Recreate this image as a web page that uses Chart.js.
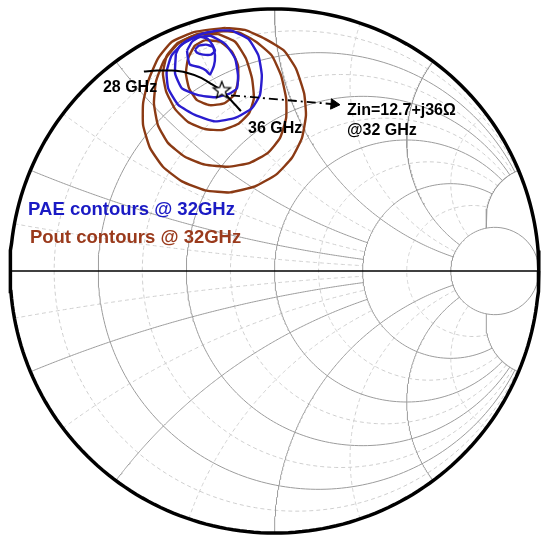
<!DOCTYPE html>
<html>
<head>
<meta charset="utf-8">
<script src="https://cdn.jsdelivr.net/npm/chart.js@4.4.1/dist/chart.umd.min.js"></script>
<style>
  html, body { margin: 0; padding: 0; background: #fff; }
  #wrap { position: relative; width: 550px; height: 542px; }
</style>
</head>
<body>
<div id="wrap"><canvas id="smith_chart"></canvas></div>
<script>
// Smith chart grid (normalized r and x)
const rMajor = [0.2, 0.5, 1, 2, 5];
const rMajorLimit = [5, 5, 5, 5, Infinity];   // max |x| drawn on each r circle
const xMajor = [0.2, 0.5, 1, 2, 5];
const xMajorLimit = [2, 2, 5, 5, 5];          // max r drawn on each x arc
const rMinor = [1 / 11, 1 / 3, 5 / 7, 1.4, 3];
const rMinorLimit = [5, 5, 5, 5, 5];
const xMinor = [1 / 11, 1 / 3, 5 / 7, 1.4, 3];
const xMinorLimit = [2, 2, 2, 5, 5];

// contours, as reflection coefficient [re, im]
const pae1 = [[-0.301, 0.845], [-0.286, 0.860], [-0.259, 0.864], [-0.233, 0.856], [-0.225, 0.841], [-0.240, 0.826], [-0.270, 0.826], [-0.293, 0.833]];
const pae2 = [[-0.331, 0.841], [-0.327, 0.811], [-0.320, 0.788], [-0.282, 0.777], [-0.259, 0.765], [-0.244, 0.750], [-0.229, 0.784], [-0.225, 0.822], [-0.233, 0.860], [-0.252, 0.886], [-0.282, 0.894], [-0.312, 0.875]];
const pae3 = [[-0.373, 0.829], [-0.376, 0.754], [-0.350, 0.697], [-0.289, 0.671], [-0.225, 0.663], [-0.168, 0.678], [-0.142, 0.697], [-0.138, 0.746], [-0.149, 0.811], [-0.187, 0.867], [-0.244, 0.898], [-0.312, 0.886], [-0.357, 0.860]];
const pae4 = [[-0.162, 0.918], [-0.099, 0.886], [-0.061, 0.823], [-0.048, 0.747], [-0.055, 0.672], [-0.086, 0.621], [-0.149, 0.584], [-0.225, 0.571], [-0.301, 0.596], [-0.364, 0.634], [-0.402, 0.697], [-0.408, 0.760], [-0.389, 0.823], [-0.339, 0.874], [-0.275, 0.905], [-0.213, 0.918]];
const pout1 = [[-0.263, 0.882], [-0.206, 0.875], [-0.161, 0.837], [-0.138, 0.784], [-0.138, 0.724], [-0.153, 0.671], [-0.191, 0.640], [-0.244, 0.633], [-0.293, 0.652], [-0.323, 0.697], [-0.335, 0.754], [-0.327, 0.811], [-0.301, 0.860]];
const pout2 = [[-0.214, 0.905], [-0.149, 0.875], [-0.108, 0.811], [-0.085, 0.735], [-0.078, 0.659], [-0.096, 0.603], [-0.138, 0.561], [-0.199, 0.538], [-0.263, 0.542], [-0.327, 0.569], [-0.376, 0.618], [-0.410, 0.686], [-0.422, 0.754], [-0.407, 0.822], [-0.365, 0.871], [-0.297, 0.901]];
const pout3 = [[-0.187, 0.916], [-0.131, 0.909], [-0.070, 0.875], [-0.010, 0.822], [0.025, 0.746], [0.044, 0.659], [0.044, 0.584], [0.021, 0.508], [-0.025, 0.451], [-0.093, 0.413], [-0.176, 0.398], [-0.263, 0.406], [-0.339, 0.436], [-0.403, 0.489], [-0.441, 0.557], [-0.456, 0.640], [-0.448, 0.724], [-0.418, 0.803], [-0.365, 0.867], [-0.289, 0.905]];
const pout4 = [[-0.187, 0.928], [-0.112, 0.920], [-0.036, 0.886], [0.036, 0.841], [0.081, 0.773], [0.112, 0.678], [0.119, 0.595], [0.104, 0.508], [0.066, 0.432], [0.006, 0.368], [-0.074, 0.323], [-0.168, 0.300], [-0.263, 0.308], [-0.350, 0.342], [-0.422, 0.398], [-0.471, 0.470], [-0.497, 0.557], [-0.497, 0.640], [-0.478, 0.724], [-0.441, 0.811], [-0.388, 0.875], [-0.301, 0.913]];

// input match trace, 28 GHz -> 36 GHz
const sweep = [[-0.494, 0.761], [-0.444, 0.765], [-0.388, 0.765], [-0.335, 0.758], [-0.282, 0.739], [-0.236, 0.712], [-0.202, 0.690], [-0.161, 0.648], [-0.127, 0.610]];

// marked input impedance at 32 GHz (ohm)
const zinRe = 12.7;
const zinIm = 36;
const z0 = 50;

// text labels and arrow, placed in reflection-coefficient space
const notes = [
  { text: '28 GHz', at: [-0.649, 0.701], color: '#000', font: 'bold 16px Arial, "Liberation Sans", sans-serif' },
  { text: '36 GHz', at: [-0.100, 0.542], color: '#000', font: 'bold 16px Arial, "Liberation Sans", sans-serif' },
  { text: 'Zin=12.7+j36Ω', at: [0.274, 0.614], color: '#000', font: 'bold 16px Arial, "Liberation Sans", sans-serif' },
  { text: '@32 GHz', at: [0.274, 0.534], color: '#000', font: 'bold 16px Arial, "Liberation Sans", sans-serif' },
  { text: 'PAE contours @ 32GHz', at: [-0.932, 0.232], color: '#1a1ac4', font: 'bold 18.5px Arial, "Liberation Sans", sans-serif' },
  { text: 'Pout contours @ 32GHz', at: [-0.925, 0.126], color: '#9a3a1c', font: 'bold 18.5px Arial, "Liberation Sans", sans-serif' }
];
const arrowFrom = [-0.1645, 0.6706];
const arrowTo = [0.225, 0.6365];

function gamma(r, x) {
  const dr = r + 1, nr = r - 1, den = dr * dr + x * x;
  return { x: (nr * dr + x * x) / den, y: (2 * x) / den };
}

function rCircle(r, lim) {
  const pts = [];
  const a = isFinite(lim) ? Math.atan(lim) : Math.PI / 2;
  const n = 240;
  for (let i = 0; i <= n; i++) {
    const t = -a + (2 * a * i) / n;
    pts.push(gamma(r, Math.tan(t)));
  }
  return pts;
}

function xArc(x, lim) {
  const pts = [];
  const tMax = isFinite(lim) ? lim / (1 + lim) : 1;
  const n = 200;
  for (let i = 0; i <= n; i++) {
    const t = (tMax * i) / n;
    const r = t >= 1 ? 1e9 : t / (1 - t);
    pts.push(gamma(r, x));
  }
  return pts;
}

const datasets = [];
function addLine(points, color, width, dash, order, tension) {
  datasets.push({
    data: points,
    showLine: true,
    borderColor: color,
    borderWidth: width,
    borderDash: dash || [],
    pointRadius: 0,
    tension: tension || 0,
    order: order,
    clip: false
  });
}

// minor dashed grid
rMinor.forEach((r, i) => addLine(rCircle(r, rMinorLimit[i]), '#cfcfcf', 1, [4, 3], 40));
xMinor.forEach((x, i) => {
  addLine(xArc(x, xMinorLimit[i]), '#cfcfcf', 1, [4, 3], 40);
  addLine(xArc(-x, xMinorLimit[i]), '#cfcfcf', 1, [4, 3], 40);
});
// major solid grid
rMajor.forEach((r, i) => addLine(rCircle(r, rMajorLimit[i]), '#9c9c9c', 1, null, 30));
xMajor.forEach((x, i) => {
  addLine(xArc(x, xMajorLimit[i]), '#9c9c9c', 1, null, 30);
  addLine(xArc(-x, xMajorLimit[i]), '#9c9c9c', 1, null, 30);
});
// real axis and outer circle
addLine([{ x: -1, y: 0 }, { x: 1, y: 0 }], '#000', 1.5, null, 25);
addLine(rCircle(0, Infinity).concat([{ x: 1, y: 0 }]), '#000', 3.5, null, 20);

// contours
const toPts = arr => arr.concat([arr[0]]).map(p => ({ x: p[0], y: p[1] }));
[pout1, pout2, pout3, pout4].forEach(c => addLine(toPts(c), '#8b3a14', 2.4, null, 12, 0.15));
[pae1, pae2, pae3, pae4].forEach(c => addLine(toPts(c), '#2a1ccf', 2.4, null, 11, 0.15));

// frequency sweep
addLine(sweep.map(p => ({ x: p[0], y: p[1] })), '#000', 2, null, 5, 0.3);

// dash-dot arrow
const arrowRot = 90 + Math.atan2(-(arrowTo[1] - arrowFrom[1]), arrowTo[0] - arrowFrom[0]) * 180 / Math.PI;
datasets.push({
  data: [{ x: arrowFrom[0], y: arrowFrom[1] }, { x: arrowTo[0], y: arrowTo[1] }],
  showLine: true,
  borderColor: '#000',
  borderWidth: 1.8,
  borderDash: [9, 4, 2, 4],
  pointStyle: [false, 'triangle'],
  pointRadius: [0, 6],
  pointRotation: [0, arrowRot],
  pointBackgroundColor: '#000',
  pointBorderColor: '#000',
  pointBorderWidth: 1,
  order: 4,
  clip: false
});

// star marker at Zin
const starImg = document.createElement('canvas');
starImg.width = 22; starImg.height = 22;
(function () {
  const c = starImg.getContext('2d');
  c.beginPath();
  for (let k = 0; k < 10; k++) {
    const rad = k % 2 === 0 ? 9 : 3.8;
    const ang = -Math.PI / 2 + (k * Math.PI) / 5;
    const px = 11 + rad * Math.cos(ang), py = 11 + rad * Math.sin(ang);
    if (k === 0) c.moveTo(px, py); else c.lineTo(px, py);
  }
  c.closePath();
  c.fillStyle = '#fff';
  c.fill();
  c.lineWidth = 1.3;
  c.strokeStyle = '#000';
  c.stroke();
})();
datasets.push({
  data: [gamma(zinRe / z0, zinIm / z0)],
  pointStyle: starImg,
  pointRadius: 8,
  order: 1,
  clip: false
});

const labelPlugin = {
  id: 'smithLabels',
  afterDatasetsDraw(chart) {
    const { ctx, scales } = chart;
    ctx.save();
    ctx.textAlign = 'left';
    ctx.textBaseline = 'middle';
    notes.forEach(n => {
      ctx.font = n.font;
      ctx.fillStyle = n.color;
      ctx.fillText(n.text, scales.x.getPixelForValue(n.at[0]), scales.y.getPixelForValue(n.at[1]));
    });
    ctx.restore();
  }
};

new Chart(document.getElementById('smith_chart'), {
  type: 'scatter',
  data: { datasets: datasets },
  options: {
    responsive: true,
    maintainAspectRatio: false,
    animation: false,
    events: [],
    layout: { padding: { left: 10.1, right: 11.1, top: 4.9, bottom: 8.3 } },
    scales: {
      x: { type: 'linear', min: -1, max: 1, display: false },
      y: { type: 'linear', min: -1, max: 1, display: false }
    },
    plugins: { legend: { display: false }, tooltip: { enabled: false } }
  },
  plugins: [labelPlugin]
});
</script>
</body>
</html>
